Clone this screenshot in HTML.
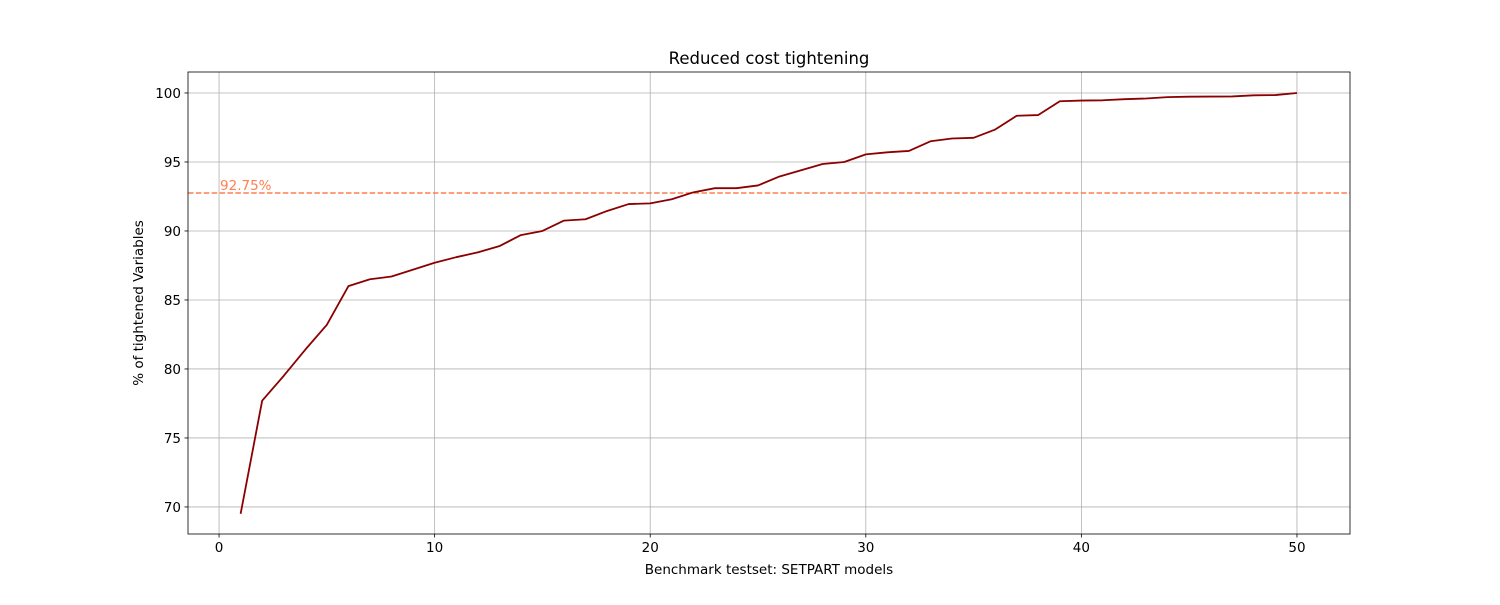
<!DOCTYPE html>
<html><head><meta charset="utf-8"><style>
body{margin:0;background:#fff}
svg text{font-family:"DejaVu Sans","Liberation Sans",sans-serif}
</style></head><body>
<svg id="chart" width="1500" height="600" xmlns="http://www.w3.org/2000/svg">
<g id="grid"></g>
<g id="marks"></g>
<g id="axes"></g>
</svg>
<script>
const xs = [1,2,3,4,5,6,7,8,9,10,11,12,13,14,15,16,17,18,19,20,21,22,23,24,25,26,27,28,29,30,31,32,33,34,35,36,37,38,39,40,41,42,43,44,45,46,47,48,49,50];
const values = [69.5,77.7,79.5,81.4,83.2,86.0,86.5,86.7,87.2,87.7,88.1,88.45,88.9,89.7,90.0,90.75,90.85,91.45,91.95,92.0,92.3,92.8,93.1,93.1,93.3,93.95,94.4,94.85,95.0,95.55,95.7,95.8,96.5,96.7,96.75,97.35,98.35,98.4,99.4,99.45,99.47,99.55,99.6,99.7,99.73,99.74,99.75,99.83,99.85,100];
const xTicks = [0,10,20,30,40,50];
const yTicks = [70,75,80,85,90,95,100];
const refValue = 92.75;
const refLabel = "92.75%";

const L=188,R=1350,T=72,B=534;
const xMin=-1.44,xMax=52.46,yMin=68.04,yMax=101.52;
const X=v=>L+(v-xMin)/(xMax-xMin)*(R-L);
const Y=v=>B-(v-yMin)/(yMax-yMin)*(B-T);
const NS="http://www.w3.org/2000/svg";
function mk(tag,attrs,parent){const e=document.createElementNS(NS,tag);for(const k in attrs)e.setAttribute(k,attrs[k]);parent.appendChild(e);return e;}
const grid=document.getElementById('grid'),marks=document.getElementById('marks'),axes=document.getElementById('axes');

xTicks.forEach(t=>{
  const g=mk('line',{x1:X(t),x2:X(t),y1:T,y2:B,stroke:'#b0b0b0','stroke-width':0.8},grid);
  
  
  mk('line',{x1:X(t),x2:X(t),y1:B,y2:B+3.5,stroke:'#000','stroke-width':0.8},axes);
  const tx=mk('text',{x:X(t),y:B+18,'text-anchor':'middle','font-size':13.5},axes);
  tx.textContent=t;
  
  
});
yTicks.forEach(t=>{
  const g=mk('line',{x1:L,x2:R,y1:Y(t),y2:Y(t),stroke:'#b0b0b0','stroke-width':0.8},grid);
  
  
  mk('line',{x1:L-3.5,x2:L,y1:Y(t),y2:Y(t),stroke:'#000','stroke-width':0.8},axes);
  const tx=mk('text',{x:L-7,y:Y(t)+5,'text-anchor':'end','font-size':13.5},axes);
  tx.textContent=t;
  
  
});

const ref=mk('line',{x1:L,x2:R,y1:Y(refValue),y2:Y(refValue),stroke:'#ff7f50','stroke-width':1.5,'stroke-dasharray':'5.5,2.4'},marks);


const rl=mk('text',{x:X(0)+1,y:Y(refValue)-3,'font-size':13.5,fill:'#ff7f50'},marks);
rl.textContent=refLabel;



const line=mk('polyline',{points:xs.map((x,i)=>X(x)+','+Y(values[i])).join(' '),fill:'none',stroke:'#8b0000','stroke-width':1.8,'stroke-linejoin':'round'},marks);



const frame=mk('rect',{x:L,y:T,width:R-L,height:B-T,fill:'none',stroke:'#000','stroke-width':0.8},axes);



const title=mk('text',{x:(L+R)/2,y:64,'text-anchor':'middle','font-size':16.5},axes);
title.textContent='Reduced cost tightening';


const xl=mk('text',{x:(L+R)/2,y:574,'text-anchor':'middle','font-size':13.5},axes);
xl.textContent='Benchmark testset: SETPART models';


const yl=mk('text',{x:0,y:0,'text-anchor':'middle','font-size':13.5,transform:'translate(143,'+((T+B)/2)+') rotate(-90)'},axes);
yl.textContent='% of tightened Variables';


</script>
</body></html>
